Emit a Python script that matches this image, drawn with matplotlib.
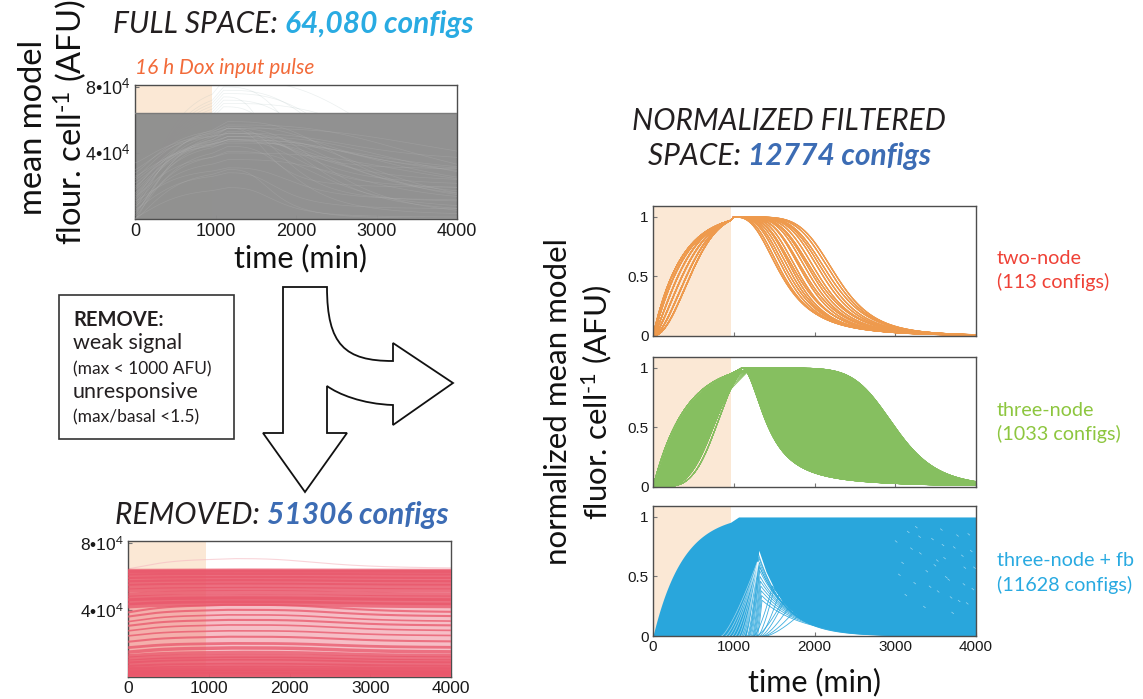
import numpy as np
import matplotlib
matplotlib.use("Agg")
import matplotlib.pyplot as plt
from matplotlib.path import Path
from matplotlib.patches import PathPatch, Rectangle

plt.rcParams["font.family"] = ["Liberation Sans", "DejaVu Sans"]
plt.rcParams["mathtext.fontset"] = "custom"
plt.rcParams["mathtext.rm"] = "Lato"
plt.rcParams["mathtext.it"] = "Lato:italic"

W, H = 1143, 699
PULSE = 960          # 16 h Dox input pulse (min)
T_END = 4000

# ---------------- data ----------------
time_ticks = [0, 1000, 2000, 3000, 4000]
afu_ticks = [40000, 80000]
afu_tick_labels = ["4•10$^4$", "8•10$^4$"]
norm_ticks = [0, 0.5, 1]
norm_tick_labels = ["0", "0.5", "1"]

n_full = "64,080"
n_removed = "51306"
n_filtered = "12774"
class_names = ["two-node", "three-node", "three-node + fb"]
class_counts = [113, 1033, 11628]

# two-node: rise shapes (tau, k, level at pulse end) and decay (half-time, Hill n)
orange_rise = [(350, 1.0, 0.97), (380, 1.1, 0.97), (420, 1.3, 0.97),
               (470, 1.5, 0.97), (520, 1.75, 0.97), (560, 2.0, 0.97)]
orange_tp = 1000
orange_half = [600, 625, 665, 700, 735, 770, 800, 830, 880, 905,
               950, 990, 1020, 1060, 1110, 1150, 1190, 1235, 1275]
orange_hill = [2.8, 3.0, 3.2, 3.3, 3.5, 3.7, 3.6, 3.9, 4.1, 4.0,
               4.3, 4.4, 4.3, 4.6, 4.8, 4.9, 4.9, 5.2, 5.4]

# three-node
green_rise = [(400, 1.0, 0.95), (450, 1.2, 0.94), (500, 1.4, 0.93),
              (560, 1.7, 0.92), (620, 2.0, 0.91), (680, 2.4, 0.90),
              (740, 2.8, 0.88), (800, 3.2, 0.86), (840, 3.6, 0.84),
              (870, 4.0, 0.82)]
green_decay = [(1220, 260, 1.6), (1200, 290, 1.8), (1100, 330, 2.0),
               (1100, 390, 2.2), (1100, 470, 2.4), (1100, 560, 2.6),
               (1100, 650, 2.9), (1100, 740, 3.1), (1100, 830, 3.4),
               (1100, 920, 3.6), (1100, 1010, 3.9), (1100, 1100, 4.1),
               (1100, 1190, 4.4), (1100, 1280, 4.7), (1100, 1370, 5.0),
               (1100, 1460, 5.3), (1100, 1550, 5.6), (1100, 1650, 6.0),
               (1100, 1740, 6.4), (1100, 1820, 6.8), (1100, 1900, 7.2)]

# three-node + fb: upper rise, lower edge of the dense bundle, late risers
blue_rise = (370, 1.0, 0.955)
blue_tp = 1060
blue_edge_t = [960, 1150, 1200, 1250, 1290, 1310, 1400, 1500, 1600, 1700,
               1900, 2100, 2300, 2700, 3100, 4000]
blue_edge_y = [0.0, 0.0, 0.18, 0.38, 0.58, 0.72, 0.54, 0.40, 0.29, 0.22,
               0.12, 0.075, 0.045, 0.017, 0.006, 0.0]
# late risers: start time, peak time, peak level, relaxation time
blue_fan = [(1150, 1300, 0.70, 330), (1170, 1310, 0.66, 340), (1190, 1315, 0.62, 360),
            (1200, 1320, 0.58, 380), (1215, 1320, 0.55, 400), (1230, 1325, 0.50, 420),
            (1240, 1330, 0.46, 440), (1250, 1335, 0.42, 460), (1260, 1340, 0.38, 480),
            (1275, 1345, 0.34, 500), (1290, 1350, 0.30, 520), (1180, 1310, 0.60, 370),
            (1300, 1500, 0.40, 420), (1320, 1560, 0.35, 420), (1340, 1620, 0.29, 420),
            (1360, 1680, 0.24, 420), (1380, 1740, 0.20, 420), (1400, 1800, 0.17, 420),
            (1250, 1480, 0.42, 420), (1280, 1600, 0.29, 420)]
# early risers seen as gaps inside the dense bundle
blue_gap = [(850, 1290), (900, 1300), (940, 1300), (980, 1295), (1020, 1305),
            (1060, 1300), (1090, 1310), (1110, 1305), (1130, 1300)]
blue_speck_t = [3000, 3080, 3150, 3230, 3300, 3380, 3450, 3520, 3600, 3650,
                3720, 3780, 3850, 3900, 3950, 3120, 3350, 3560, 3700, 3820,
                3250, 3480, 3620, 3880, 3930, 3040, 3190, 3420, 3580, 3760,
                3840, 3970, 3680, 3510, 3290]
blue_speck_y = [0.80, 0.62, 0.88, 0.45, 0.70, 0.55, 0.82, 0.38, 0.66, 0.48,
                0.75, 0.30, 0.58, 0.86, 0.40, 0.35, 0.25, 0.90, 0.20, 0.68,
                0.92, 0.60, 0.50, 0.28, 0.72, 0.52, 0.74, 0.42, 0.77, 0.85,
                0.44, 0.58, 0.33, 0.64, 0.84]

# full space: baseline, amplitude (AFU) and decay half-time of the background traces
gray_base = [0, 2000, 5000, 8000, 10000, 12000, 15000, 18000, 3000, 6000,
             9000, 14000, 20000, 24000, 28000, 1000, 4000, 7000, 11000, 16000,
             22000, 26000, 30000, 34000, 0, 13000, 19000, 25000]
gray_amp = [30000, 42000, 36000, 28000, 45000, 40000, 33000, 30000, 50000, 22000,
            38000, 26000, 30000, 24000, 28000, 18000, 46000, 52000, 20000, 34000,
            26000, 20000, 22000, 18000, 55000, 44000, 36000, 30000]
gray_half = [600, 900, 1300, 1800, 800, 1500, 2200, 1000, 1200, 700,
             1700, 2500, 1100, 1900, 1400, 650, 2000, 1600, 900, 2400,
             1250, 2100, 850, 1750, 1350, 2700, 550, 3000]
gray_top = 64000
gray_faint_peak = [68000, 72000, 76000, 80000, 84000, 70000, 74000, 78000]
gray_faint_half = [900, 1400, 1800, 1100, 2300, 2600, 700, 1600]

# removed configs: level (AFU), bump during the pulse (AFU), line width
red_level = [600, 1800, 3000, 4200, 6000, 7600, 9200, 11000, 12600, 14800,
             17500, 21000, 24500, 27500, 30500, 33000, 36000, 38500, 42500,
             44800, 46800, 49000, 51500, 53800, 56000, 58000, 60000, 62000, 63200]
red_bump = [300, 500, 800, 1000, 1200, 1500, 1800, 1500, 2000, 2500,
            2500, 3000, 3000, 3500, 3500, 4000, 4000, 4500, 1500,
            1200, 1000, 1500, 1000, 800, 700, 600, 500, 400, 200]
red_width = [5, 5, 5, 4, 3, 4, 3, 3, 2.5, 2.5,
             2, 1.5, 1.2, 1.2, 1.5, 1.2, 1.5, 1.5, 4,
             5, 4, 3, 3, 4, 4, 4, 4, 4, 3]
red_top = 64000

# ---------------- colours ----------------
SHADE = "#FBE8D5"
ORANGE = "#EE9A4D"
GREEN = "#86BF60"
BLUE = "#29A6DC"
GRAY = "#8E8E8E"
RED = "#E9566A"
SPINE = "#4D4D4D"
TITLE_BLUE = "#29ABE2"
DARK_BLUE = "#3C6CB4"

t = np.linspace(0, T_END, 1201)


def trace(tt, tau, k, y_end, tp, half, hill):
    """Normalised response: rise during the pulse, climb to peak, Hill relaxation."""
    rise = 1 - np.exp(-(tt / tau) ** k)
    rise_end = 1 - np.exp(-(PULSE / tau) ** k)
    y = y_end * rise / rise_end
    mid = (tt > PULSE) & (tt <= tp)
    if tp > PULSE:
        y[mid] = y_end + (1 - y_end) * (tt[mid] - PULSE) / (tp - PULSE)
    late = tt > tp
    y[late] = 1 / (1 + ((tt[late] - tp) / half) ** hill)
    return y


fig = plt.figure(figsize=(W / 100, H / 100), dpi=100)


def px_axes(left, top, right, bottom):
    return fig.add_axes([left / W, 1 - bottom / H, (right - left) / W, (bottom - top) / H])


def style(ax, ylim, yticks, ylabels, xlabels=True, size=11):
    ax.set_xlim(0, T_END)
    ax.set_ylim(*ylim)
    ax.set_xticks(time_ticks)
    ax.set_xticklabels([str(v) for v in time_ticks] if xlabels else [])
    ax.set_yticks(yticks)
    ax.set_yticklabels(ylabels)
    ax.tick_params(direction="in", length=3, width=0.8, color="#777777",
                   labelsize=size, labelcolor="#1a1a1a", pad=3)
    for s in ax.spines.values():
        s.set_color(SPINE)
        s.set_linewidth(1.0)
    ax.axvspan(0, PULSE, color=SHADE, lw=0, zorder=0)


# ---------- full space ----------
ax_full = px_axes(135, 85, 457, 219)
style(ax_full, (0, 81200), afu_ticks, afu_tick_labels, size=13)
for pk, hf in zip(gray_faint_peak, gray_faint_half):
    ax_full.plot(t, pk * trace(t, 420, 1.2, 0.9, 1100, hf, 3.0),
                 color="#9DB3B3", lw=0.5, alpha=0.2, zorder=1)
ax_full.fill_between([0, T_END], 0, gray_top, color=GRAY, lw=0, alpha=0.97, zorder=2)
ax_full.plot([0, T_END], [gray_top, gray_top], color="#7A7A7A", lw=1.0, zorder=4)
clip = Rectangle((0, 0), T_END, gray_top, transform=ax_full.transData)
for b, a, hf in zip(gray_base, gray_amp, gray_half):
    ln, = ax_full.plot(t, b + a * trace(t, 450, 1.3, 0.9, 1150, hf, 3.0),
                       color="#B4B4B4", lw=0.5, alpha=0.3, zorder=3)
    ln.set_clip_path(clip)

# ---------- removed ----------
ax_rem = px_axes(128, 541, 451, 677)
style(ax_rem, (0, 81000), afu_ticks, afu_tick_labels, size=12.5)
ax_rem.plot(t, 64500 + 6000 * trace(t, 450, 1.3, 0.9, 1300, 1200, 3.0),
            color="#F5B8C0", lw=0.8, alpha=0.6, zorder=1)
ax_rem.fill_between([0, T_END], 0, red_top, color=RED, lw=0, alpha=0.38, zorder=2)
for lv, bp, w in zip(red_level, red_bump, red_width):
    y = lv + bp * trace(t, 400, 1.2, 0.9, 1200, 1500, 4.0)
    ax_rem.plot(t, np.minimum(y, red_top - 300), color=RED, lw=w, alpha=0.75,
                solid_capstyle="butt", zorder=3)

# ---------- two-node ----------
ax_o = px_axes(653, 206, 976, 336)
style(ax_o, (0, 1.092), norm_ticks, norm_tick_labels, xlabels=False)
for tau, k, ye in orange_rise:
    for hf, hn in zip(orange_half, orange_hill):
        ax_o.plot(t, trace(t, tau, k, ye, orange_tp, hf, hn),
                  color=ORANGE, lw=0.8, alpha=0.75, zorder=2)

# ---------- three-node ----------
ax_g = px_axes(653, 357, 976, 487)
style(ax_g, (0, 1.092), norm_ticks, norm_tick_labels, xlabels=False)
g_curves = []
for ri, (tau, k, ye) in enumerate(green_rise):
    for di, (tp, hf, hn) in enumerate(green_decay):
        y = trace(t, tau, k, ye, tp, hf, hn)
        g_curves.append((ri, di, y))
        ax_g.plot(t, y, color=GREEN, lw=0.6, alpha=0.8, zorder=2)
core = np.array([y for ri, di, y in g_curves if ri < 9 and di > 1])
ax_g.fill_between(t, core.min(axis=0), core.max(axis=0), color=GREEN, lw=0, zorder=2)

# ---------- three-node + fb ----------
ax_b = px_axes(653, 506, 976, 636)
style(ax_b, (0, 1.092), norm_ticks, norm_tick_labels)
b_top = trace(t, blue_rise[0], blue_rise[1], blue_rise[2], blue_tp, 1e9, 2.0)
b_low = np.interp(t, blue_edge_t, blue_edge_y)
b_low[t < PULSE] = 0
ax_b.fill_between(t, b_low, b_top, color=BLUE, lw=0, zorder=2)
for t0, tpk, ypk, tau in blue_fan:
    up = np.linspace(t0, tpk, 40)
    down = np.linspace(tpk, T_END, 200)
    xs = np.concatenate([up, down])
    ys = np.concatenate([ypk * ((up - t0) / (tpk - t0)) ** 1.4,
                         ypk * np.exp(-(down - tpk) / tau)])
    ax_b.plot(xs, ys, color=BLUE, lw=0.6, alpha=0.9, zorder=2)
for t0, tj in blue_gap:
    seg = np.linspace(t0, tj, 40)
    ax_b.plot(seg, 0.62 * ((seg - t0) / (tj - t0)) ** 1.3, color="white",
              lw=0.5, alpha=0.55, zorder=3)
for ts, ys in zip(blue_speck_t, blue_speck_y):
    ax_b.plot([ts, ts + 22], [ys, ys - 0.012], color="white", lw=0.5, alpha=0.55, zorder=3)

# ---------- annotation layer (pixel coordinates) ----------
ann = fig.add_axes([0, 0, 1, 1], zorder=5)
ann.set_xlim(0, W)
ann.set_ylim(H, 0)
ann.axis("off")

TF = dict(family="Lato", style="italic")
INK = "#231F20"


def two_part(x, y, first, second, color2, size):
    t1 = ann.text(x, y, first, ha="left", va="bottom", fontsize=size,
                  color=INK, **TF)
    ann.annotate(second, xy=(1, 0), xycoords=t1, ha="left", va="bottom",
                 fontsize=size, color=color2, weight="bold", **TF)


two_part(113, 38, "FULL SPACE: ", n_full + " configs", TITLE_BLUE, 21.5)
two_part(115, 529, "REMOVED: ", n_removed + " configs", DARK_BLUE, 21.5)
ann.text(789, 121, "NORMALIZED FILTERED", ha="center", va="center",
         fontsize=21.5, color=INK, **TF)
two_part(648, 170, "SPACE: ", n_filtered + " configs", DARK_BLUE, 21.5)

ann.text(135, 68, "16 h Dox input pulse", ha="left", va="center", fontsize=15,
         color="#F26B3A", **TF)

ann.text(33, 127, "mean model", rotation=90, ha="center", va="center",
         fontsize=23.5, family="Lato", color="#111111")
ann.text(70, 122, r"flour. cell$^{\text{-1}}$ (AFU)", rotation=90, ha="center",
         va="center", fontsize=23.5, family="Lato", color="#111111")
ann.text(300, 258, "time (min)", ha="center", va="center", fontsize=22,
         family="Lato", color="#111111")

ann.text(558, 402, "normalized mean model", rotation=90, ha="center", va="center",
         fontsize=22.5, family="Lato", color="#111111")
ann.text(597, 402, r"fluor. cell$^{\text{-1}}$ (AFU)", rotation=90, ha="center",
         va="center", fontsize=22.5, family="Lato", color="#111111")
ann.text(815, 682, "time (min)", ha="center", va="center", fontsize=22,
         family="Lato", color="#111111")

class_colors = ["#EF4136", "#8DC63F", "#29AAE1"]
class_y = [258, 410, 561]
for name, cnt, col, yy in zip(class_names, class_counts, class_colors, class_y):
    ann.text(997, yy, name, ha="left", va="center", fontsize=14.2, family="Lato", color=col)
    ann.text(997, yy + 24, "(%d configs)" % cnt, ha="left", va="center", fontsize=14.2,
             family="Lato", color=col)

# filter criteria box
ann.add_patch(Rectangle((59, 295), 175, 144, fill=False, ec="#333333", lw=1.2))
ann.text(73, 320, "REMOVE:", ha="left", va="center", fontsize=14.5, weight="bold",
         family="Lato", color=INK)
ann.text(73, 343, "weak signal", ha="left", va="center", fontsize=15.5,
         family="Lato", color=INK)
ann.text(73, 369, "(max < 1000 AFU)", ha="left", va="center", fontsize=12.5,
         family="Lato", color=INK)
ann.text(73, 392, "unresponsive", ha="left", va="center", fontsize=15.5,
         family="Lato", color=INK)
ann.text(73, 417, "(max/basal <1.5)", ha="left", va="center", fontsize=12.5,
         family="Lato", color=INK)

# split arrow: down to removed, right to filtered
verts = [(283, 287), (327, 287),
         (327, 345), (345, 361), (393, 361),
         (393, 343), (453, 383), (393, 425), (393, 405),
         (362, 404), (338, 394), (327, 386),
         (327, 433), (347, 433), (305, 492), (263, 433), (283, 433), (283, 287)]
codes = [Path.MOVETO, Path.LINETO,
         Path.CURVE4, Path.CURVE4, Path.CURVE4,
         Path.LINETO, Path.LINETO, Path.LINETO, Path.LINETO,
         Path.CURVE4, Path.CURVE4, Path.CURVE4,
         Path.LINETO, Path.LINETO, Path.LINETO, Path.LINETO, Path.LINETO, Path.CLOSEPOLY]
ann.add_patch(PathPatch(Path(verts, codes), fc="white", ec="#111111", lw=1.3))

fig.savefig("out.png", dpi=100)
